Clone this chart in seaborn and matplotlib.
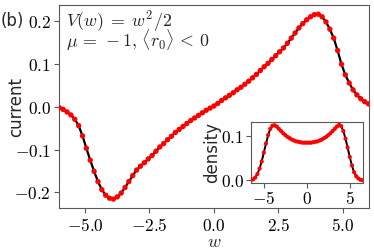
import numpy as np
import pandas as pd
import matplotlib
matplotlib.use("Agg")
import matplotlib.pyplot as plt
from matplotlib.ticker import FuncFormatter
import seaborn as sns

# current vs w
w_cur = [-6.00, -5.85, -5.70, -5.55, -5.40, -5.25, -5.10, -4.95, -4.80, -4.65,
         -4.50, -4.35, -4.20, -4.05, -3.90, -3.75, -3.60, -3.45, -3.30, -3.15,
         -3.00, -2.85, -2.70, -2.55, -2.40, -2.25, -2.10, -1.95, -1.80, -1.65,
         -1.50, -1.35, -1.20, -1.05, -0.90, -0.75, -0.60, -0.45, -0.30, -0.15,
         0.00, 0.15, 0.30, 0.45, 0.60, 0.75, 0.90, 1.05, 1.20, 1.35,
         1.50, 1.65, 1.80, 1.95, 2.10, 2.25, 2.40, 2.55, 2.70, 2.85,
         3.00, 3.15, 3.30, 3.45, 3.60, 3.75, 3.90, 4.05, 4.20, 4.35,
         4.50, 4.65, 4.80, 4.95, 5.10, 5.25, 5.40, 5.55, 5.70, 5.85, 6.00]
current = [-0.002, -0.006, -0.012, -0.019, -0.029, -0.044, -0.068, -0.097, -0.125, -0.151,
           -0.175, -0.194, -0.207, -0.214, -0.216, -0.211, -0.202, -0.189, -0.175, -0.161,
           -0.148, -0.139, -0.131, -0.122, -0.114, -0.104, -0.094, -0.086, -0.077, -0.069,
           -0.060, -0.053, -0.046, -0.039, -0.032, -0.026, -0.020, -0.014, -0.008, -0.003,
           0.002, 0.008, 0.015, 0.021, 0.027, 0.033, 0.040, 0.046, 0.053, 0.060,
           0.068, 0.076, 0.085, 0.094, 0.102, 0.111, 0.120, 0.129, 0.138, 0.149,
           0.161, 0.173, 0.185, 0.195, 0.204, 0.211, 0.216, 0.217, 0.211, 0.199,
           0.182, 0.161, 0.132, 0.100, 0.075, 0.056, 0.040, 0.028, 0.019, 0.012, 0.007]

# density vs w (inset)
w_den = [-6.5, -6.25, -6.0, -5.75, -5.5, -5.25, -5.0, -4.75, -4.5, -4.25,
         -4.0, -3.75, -3.5, -3.25, -3.0, -2.75, -2.5, -2.25, -2.0, -1.75,
         -1.5, -1.25, -1.0, -0.75, -0.5, -0.25, 0.0, 0.25, 0.5, 0.75,
         1.0, 1.25, 1.5, 1.75, 2.0, 2.25, 2.5, 2.75, 3.0, 3.25,
         3.5, 3.75, 4.0, 4.25, 4.5, 4.75, 5.0, 5.25, 5.5, 5.75,
         6.0, 6.25, 6.5]
density = [0.000, 0.002, 0.006, 0.014, 0.026, 0.042, 0.062, 0.082, 0.101, 0.115,
           0.122, 0.123, 0.120, 0.115, 0.110, 0.105, 0.101, 0.097, 0.094, 0.091,
           0.089, 0.087, 0.086, 0.085, 0.084, 0.084, 0.084, 0.084, 0.084, 0.085,
           0.086, 0.087, 0.089, 0.091, 0.094, 0.097, 0.101, 0.105, 0.110, 0.115,
           0.120, 0.124, 0.121, 0.110, 0.093, 0.073, 0.052, 0.033, 0.018, 0.009,
           0.004, 0.001, 0.000]

df_cur = pd.DataFrame({"w": w_cur, "current": current})
df_den = pd.DataFrame({"w": w_den, "density": density})

sns.set_style("ticks")
plt.rcParams['font.family'] = ['DejaVu Sans']
plt.rcParams['mathtext.fontset'] = 'cm'
plt.rcParams['axes.edgecolor'] = '0.35'
plt.rcParams['xtick.color'] = '0.35'
plt.rcParams['ytick.color'] = '0.35'
plt.rcParams['xtick.labelcolor'] = 'black'
plt.rcParams['ytick.labelcolor'] = 'black'

fig = plt.figure(figsize=(3.74, 2.49), dpi=100)
ax = fig.add_axes([0.1586, 0.1635, 0.8267, 0.8165])

sns.lineplot(data=df_cur, x="w", y="current", color="black", lw=1.6, ax=ax)
sns.scatterplot(data=df_cur, x="w", y="current", color="red", s=15, edgecolor="none", ax=ax, zorder=3)

ax.set_xlim(-6, 6)
ax.set_xticks([-5.0, -2.5, 0.0, 2.5, 5.0])
ax.set_yticks([-0.2, -0.1, 0.0, 0.1, 0.2])
fmt1 = FuncFormatter(lambda v, p: f"${v:.1f}$")
ax.xaxis.set_major_formatter(fmt1)
ax.yaxis.set_major_formatter(fmt1)
ax.tick_params(labelsize=12.5, length=3.5, width=0.8, pad=2.5)
ax.set_xlabel("$w$", fontsize=13, labelpad=-1)
ax.set_ylabel("current", fontsize=12)
ax.yaxis.set_label_coords(-0.111, 0.5)

# annotation lines; size taken from line 1 width in the reference (106 px)
renderer = fig.canvas.get_renderer()
t1 = fig.text(0.1765, 1 - 27 / 249, r"$V(w)\;=\;w^2/2$", fontsize=14, va="baseline", ha="left")
fs = 14 * 106 / t1.get_window_extent(renderer).width
t1.set_fontsize(fs)
fig.text(0.1765, 1 - 47 / 249, r"$\mu\,=\,-1,\,\langle r_0\rangle\,<\,0$", fontsize=fs, va="baseline", ha="left")
fig.text(0.003, 0.915, "(b)", fontsize=12, va="center")

# inset
axin = fig.add_axes([0.671, 0.265, 0.2987, 0.245])
sns.lineplot(data=df_den, x="w", y="density", color="black", lw=1.4, ax=axin)
sns.scatterplot(data=df_den, x="w", y="density", color="red", s=9, edgecolor="none", ax=axin, zorder=3)
axin.set_xlim(-6.5, 6.5)
axin.set_xticks([-5, 0, 5])
axin.set_yticks([0.0, 0.1])
axin.xaxis.set_major_formatter(FuncFormatter(lambda v, p: f"${v:.0f}$"))
axin.yaxis.set_major_formatter(FuncFormatter(lambda v, p: f"${v:.1f}$"))
axin.tick_params(labelsize=12.5, length=3.5, width=0.8, pad=1.5)
axin.set_xlabel("")
axin.set_ylabel("density", fontsize=12, labelpad=0)

fig.savefig("out.png", dpi=100)
